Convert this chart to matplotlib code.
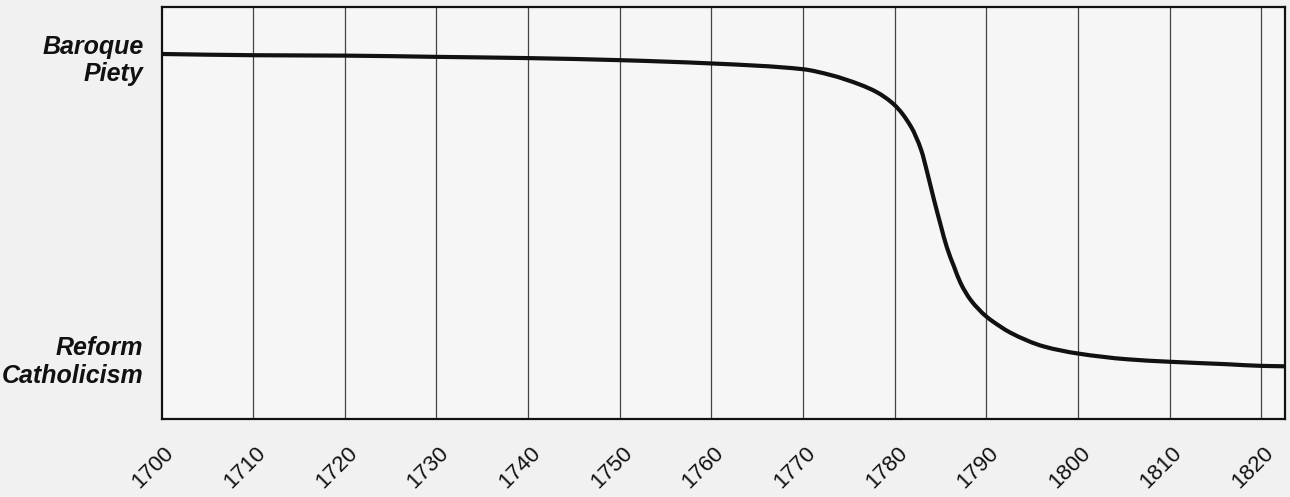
import matplotlib
matplotlib.use("Agg")
import numpy as np
import matplotlib.pyplot as plt
import matplotlib.transforms as mtransforms
from matplotlib.path import Path
from matplotlib.patches import PathPatch

# curve (0 = bottom of frame, 100 = top)
years = [1700, 1710, 1720, 1730, 1740, 1750, 1760, 1770, 1773, 1776.3, 1778,
         1780, 1781.8, 1782.9, 1783.6, 1784.3, 1785.0, 1785.7, 1786.5, 1787.2,
         1788.3, 1790, 1791.5, 1792.6, 1796.3, 1800, 1805.4, 1810, 1816.3,
         1820, 1822.6]
level = [88.6, 88.3, 88.2, 87.9, 87.6, 87.1, 86.3, 84.9, 83.5, 81.1, 79.4,
         76.2, 70.9, 65.3, 59.5, 53.2, 47.3, 41.7, 36.9, 33.0,
         28.9, 24.9, 22.5, 21.0, 17.6, 15.9, 14.5, 13.9, 13.3,
         12.9, 12.8]

decades = list(range(1700, 1830, 10))
pole_levels = [88.1, 15.0]
pole_names = ["Baroque\nPiety", "Reform\nCatholicism"]


def smooth_path(xs, ys):
    # monotone cubic (Fritsch-Carlson) tangents, drawn as Bezier segments
    x = np.asarray(xs, float)
    y = np.asarray(ys, float)
    h = np.diff(x)
    d = np.diff(y) / h
    m = np.zeros_like(y)
    m[0], m[-1] = d[0], d[-1]
    for i in range(1, len(x) - 1):
        if d[i - 1] * d[i] <= 0:
            m[i] = 0
        else:
            w1 = 2 * h[i] + h[i - 1]
            w2 = h[i] + 2 * h[i - 1]
            m[i] = (w1 + w2) / (w1 / d[i - 1] + w2 / d[i])
    verts = [(x[0], y[0])]
    codes = [Path.MOVETO]
    for i in range(len(x) - 1):
        verts += [(x[i] + h[i] / 3, y[i] + m[i] * h[i] / 3),
                  (x[i + 1] - h[i] / 3, y[i + 1] - m[i + 1] * h[i] / 3),
                  (x[i + 1], y[i + 1])]
        codes += [Path.CURVE4] * 3
    return Path(verts, codes)


fig = plt.figure(figsize=(12.9, 4.97), dpi=100)
fig.patch.set_facecolor("#f1f1f1")
ax = fig.add_axes([0.1252, 0.1569, 0.8709, 0.829])
ax.set_facecolor("#f6f6f6")

for d in decades[1:]:
    ax.axvline(d, color="#444444", linewidth=0.9, zorder=1)

ax.add_patch(PathPatch(smooth_path(years, level), facecolor="none",
                       edgecolor="#111111", linewidth=3.0,
                       capstyle="round", joinstyle="round", zorder=3))

ax.set_xlim(1700, 1822.6)
ax.set_ylim(0, 100)

for s in ax.spines.values():
    s.set_linewidth(1.6)
    s.set_color("#111111")

ax.set_xticks(decades)
ax.set_xticklabels([str(d) for d in decades], rotation=45, ha="right",
                   rotation_mode="anchor", fontsize=16,
                   family="Liberation Sans", color="#111111")
ax.tick_params(axis="x", length=0, pad=17)
shift = mtransforms.ScaledTranslation(2 / 100, 0, fig.dpi_scale_trans)
for lab in ax.get_xticklabels():
    lab.set_transform(lab.get_transform() + shift)

ax.set_yticks(pole_levels)
ax.set_yticklabels(pole_names, fontsize=18, fontweight="bold",
                   fontstyle="italic", family="Liberation Sans",
                   ha="right", color="#111111")
ax.tick_params(axis="y", length=0, pad=13)

fig.savefig("out.png", dpi=100, facecolor=fig.get_facecolor())
